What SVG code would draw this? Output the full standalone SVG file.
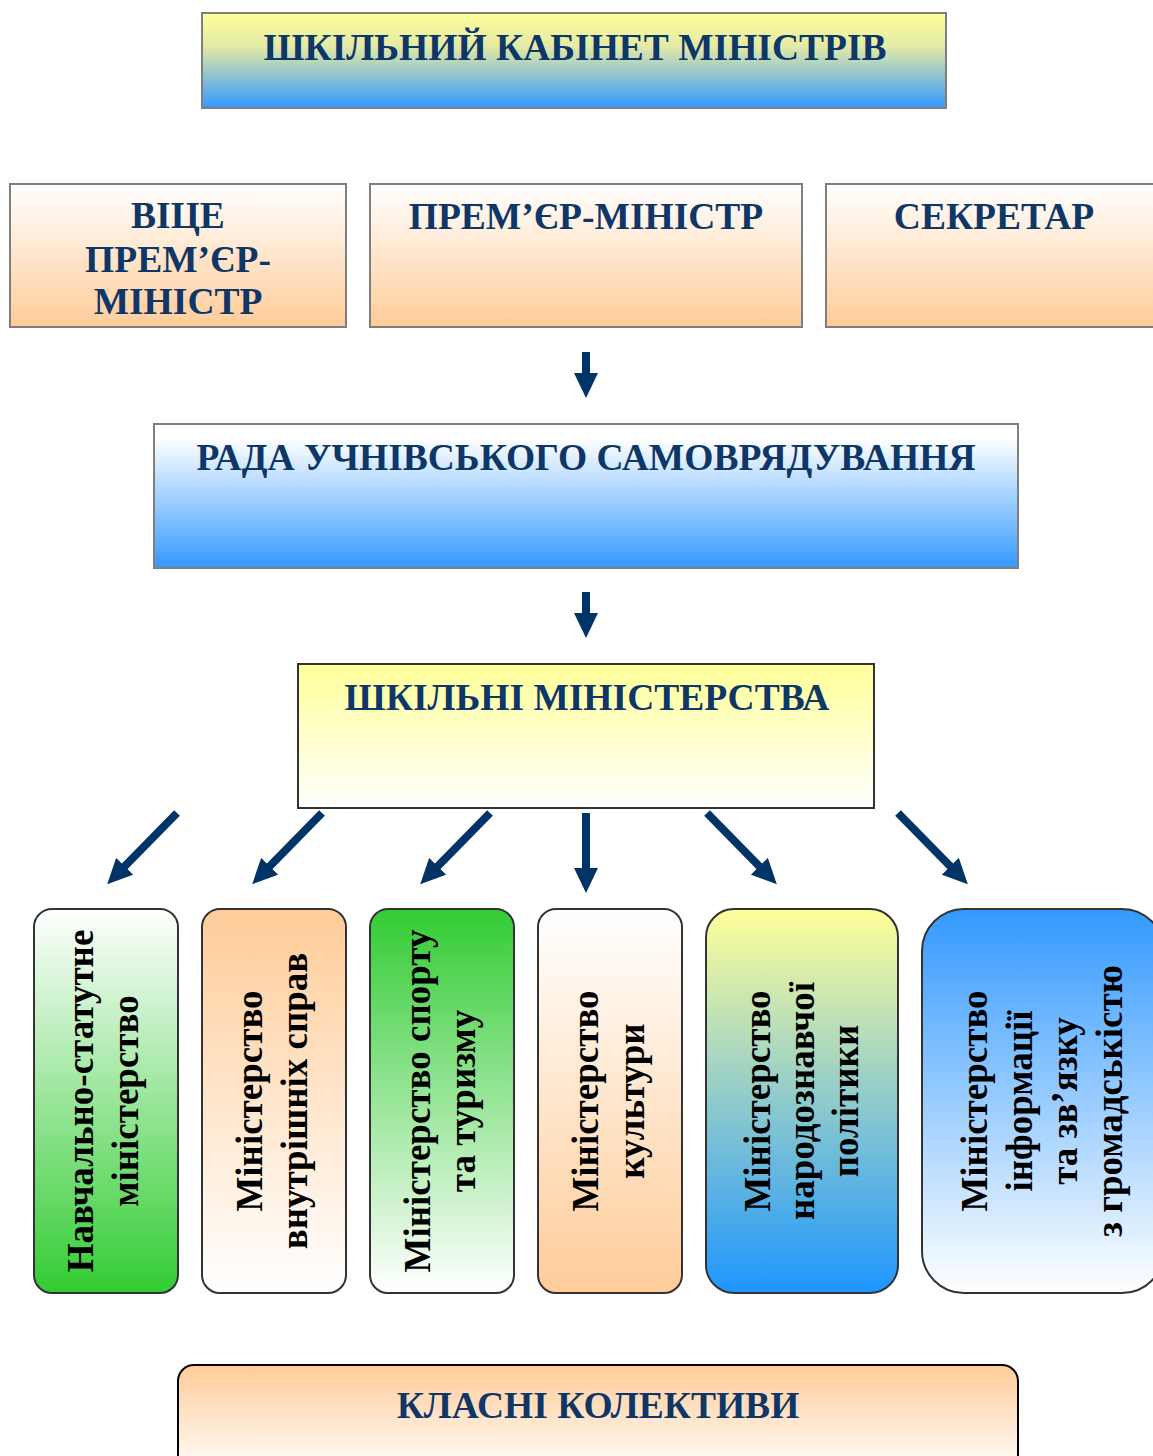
<svg xmlns="http://www.w3.org/2000/svg" width="1153" height="1456" viewBox="0 0 1153 1456">
<style>
.hd{font-family:"Liberation Serif","Times New Roman",serif;font-weight:bold;font-size:37.5px;fill:#0E3667;text-anchor:middle}
.mn{font-family:"Liberation Serif","Times New Roman",serif;font-weight:bold;font-size:37px;fill:#000;text-anchor:middle}
.bx{stroke:#7F7F7F;stroke-width:2}
.rb{stroke:#333;stroke-width:2}
.ar{stroke:#003366;stroke-width:8;fill:none;marker-end:url(#ah)}
</style>
<defs>
<linearGradient id="gYB" x1="0" y1="0" x2="0" y2="1"><stop offset="0" stop-color="#FFFF99"/><stop offset="0.35" stop-color="#E3EAA6"/><stop offset="1" stop-color="#3399FF"/></linearGradient>
<linearGradient id="gWP" x1="0" y1="0" x2="0" y2="1"><stop offset="0" stop-color="#FFFFFF"/><stop offset="1" stop-color="#FFCC99"/></linearGradient>
<linearGradient id="gPW" x1="0" y1="0" x2="0" y2="1"><stop offset="0" stop-color="#FFCC99"/><stop offset="1" stop-color="#FFFFFF"/></linearGradient>
<linearGradient id="gWB" x1="0" y1="0" x2="0" y2="1"><stop offset="0.1" stop-color="#FFFFFF"/><stop offset="1" stop-color="#3399FF"/></linearGradient>
<linearGradient id="gYW" x1="0" y1="0" x2="0" y2="1"><stop offset="0" stop-color="#FFFF99"/><stop offset="1" stop-color="#FFFFFF"/></linearGradient>
<linearGradient id="gWG" x1="0" y1="0" x2="0" y2="1"><stop offset="0" stop-color="#FFFFFF"/><stop offset="1" stop-color="#33CC33"/></linearGradient>
<linearGradient id="gGW" x1="0" y1="0" x2="0" y2="1"><stop offset="0" stop-color="#33CC33"/><stop offset="1" stop-color="#FFFFFF"/></linearGradient>
<linearGradient id="gYB2" x1="0" y1="0" x2="0" y2="1"><stop offset="0" stop-color="#FFFF99"/><stop offset="1" stop-color="#1E96FF"/></linearGradient>
<linearGradient id="gBW" x1="0" y1="0" x2="0" y2="1"><stop offset="0" stop-color="#3399FF"/><stop offset="1" stop-color="#FFFFFF"/></linearGradient>
<marker id="ah" markerUnits="userSpaceOnUse" markerWidth="26" markerHeight="24" refX="1" refY="12" orient="auto"><path d="M0,0 L25,12 L0,24 z" fill="#003366"/></marker>
</defs>

<g id="cabinet">
<rect class="bx" x="202" y="13" width="744" height="95" fill="url(#gYB)"/>
<text class="hd" x="575" y="60">ШКІЛЬНИЙ КАБІНЕТ МІНІСТРІВ</text>
</g>
<g id="vice-premier">
<rect class="bx" x="10" y="184" width="336" height="143" fill="url(#gWP)"/>
<text class="hd" x="178" y="228">ВІЦЕ</text>
<text class="hd" x="178" y="272">ПРЕМ’ЄР-</text>
<text class="hd" x="178" y="314">МІНІСТР</text>
</g>
<g id="premier">
<rect class="bx" x="370" y="184" width="432" height="143" fill="url(#gWP)"/>
<text class="hd" x="586" y="229">ПРЕМ’ЄР-МІНІСТР</text>
</g>
<g id="secretary">
<rect class="bx" x="826" y="184" width="340" height="143" fill="url(#gWP)"/>
<text class="hd" x="994" y="229">СЕКРЕТАР</text>
</g>
<g id="council">
<rect class="bx" x="154" y="424" width="864" height="144" fill="url(#gWB)"/>
<text class="hd" x="586" y="470">РАДА УЧНІВСЬКОГО САМОВРЯДУВАННЯ</text>
</g>
<g id="ministries">
<rect x="298" y="664" width="576" height="144" fill="url(#gYW)" stroke="#333" stroke-width="2"/>
<text class="hd" x="587" y="710">ШКІЛЬНІ МІНІСТЕРСТВА</text>
</g>

<g id="m1">
<rect class="rb" x="34" y="909" width="144" height="384" rx="18" fill="url(#gWG)"/>
<text class="mn" transform="translate(93,1101) rotate(-90)"><tspan x="0" y="0">Навчально-статутне</tspan><tspan x="0" y="45">міністерство</tspan></text>
</g>
<g id="m2">
<rect class="rb" x="202" y="909" width="144" height="384" rx="18" fill="url(#gPW)"/>
<text class="mn" transform="translate(262,1101) rotate(-90)"><tspan x="0" y="0">Міністерство</tspan><tspan x="0" y="45">внутрішніх справ</tspan></text>
</g>
<g id="m3">
<rect class="rb" x="370" y="909" width="144" height="384" rx="18" fill="url(#gGW)"/>
<text class="mn" transform="translate(430,1101) rotate(-90)"><tspan x="0" y="0">Міністерство спорту</tspan><tspan x="0" y="45">та туризму</tspan></text>
</g>
<g id="m4">
<rect class="rb" x="538" y="909" width="144" height="384" rx="18" fill="url(#gWP)"/>
<text class="mn" transform="translate(598,1101) rotate(-90)"><tspan x="0" y="0">Міністерство</tspan><tspan x="0" y="46">культури</tspan></text>
</g>
<g id="m5">
<rect class="rb" x="706" y="909" width="192" height="384" rx="28" fill="url(#gYB2)"/>
<text class="mn" transform="translate(770,1101) rotate(-90)"><tspan x="0" y="0">Міністерство</tspan><tspan x="0" y="44">народознавчої</tspan><tspan x="0" y="88">політики</tspan></text>
</g>
<g id="m6">
<rect class="rb" x="922" y="909" width="242" height="384" rx="42" fill="url(#gBW)"/>
<text class="mn" transform="translate(987,1101) rotate(-90)"><tspan x="0" y="0">Міністерство</tspan><tspan x="0" y="45">інформації</tspan><tspan x="0" y="90">та зв’язку</tspan><tspan x="0" y="135">з громадськістю</tspan></text>
</g>

<g id="classes">
<rect x="178" y="1365" width="840" height="110" rx="16" fill="url(#gPW)" stroke="#000" stroke-width="2"/>
<text class="hd" x="598" y="1418">КЛАСНІ КОЛЕКТИВИ</text>
</g>

<g id="connectors">
<line class="ar" x1="586" y1="352" x2="586" y2="374"/>
<line class="ar" x1="586" y1="592" x2="586" y2="614"/>
<line class="ar" x1="177" y1="813" x2="124" y2="867"/>
<line class="ar" x1="322" y1="813" x2="269" y2="867"/>
<line class="ar" x1="490" y1="813" x2="437" y2="867"/>
<line class="ar" x1="586" y1="813" x2="586" y2="869"/>
<line class="ar" x1="707" y1="813" x2="760" y2="867"/>
<line class="ar" x1="898" y1="813" x2="951" y2="867"/>
</g>
</svg>
